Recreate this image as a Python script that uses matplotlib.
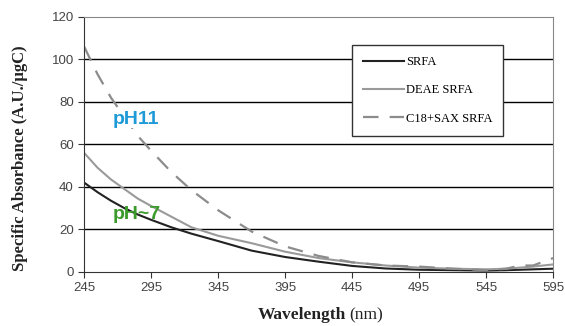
import matplotlib.pyplot as plt

wavelength = [245, 255, 265, 275, 285, 295, 310, 325, 345, 370, 395, 420,
              445, 470, 495, 520, 545, 560, 570, 580, 595]
srfa = [42, 37.5, 33.5, 30, 27, 24.5, 21, 18, 14.5, 10, 7, 4.8,
        2.8, 1.6, 1.0, 0.8, 0.6, 0.8, 1.0, 1.2, 1.5]
deae_srfa = [56, 49, 43.5, 39, 34.5, 31, 26, 21, 17, 13.5, 9.5, 6.5,
             4.5, 3.0, 2.0, 1.5, 1.2, 1.5, 2.0, 2.5, 3.5]
c18_sax_srfa = [106, 93, 82, 73, 64, 57, 47, 38.5, 29, 19, 12, 7.5,
                4.5, 3.0, 2.5, 1.5, 0.8, 1.5, 3.0, 3.0, 6.5]

x_ticks = [245, 295, 345, 395, 445, 495, 545, 595]
y_ticks = [0, 20, 40, 60, 80, 100, 120]

fig = plt.figure(figsize=(5.65, 3.26), dpi=100)
ax = fig.add_axes([0.149, 0.166, 0.830, 0.782])

ax.plot(wavelength, srfa, color='#222222', lw=1.5, label='SRFA')
ax.plot(wavelength, deae_srfa, color='#9a9a9a', lw=1.5, label='DEAE SRFA')
ax.plot(wavelength, c18_sax_srfa, color='#8c8c8c', lw=1.6, dashes=(7, 5),
        label='C18+SAX SRFA')

ax.set_xlim(245, 595)
ax.set_ylim(0, 120)
ax.set_xticks(x_ticks)
ax.set_yticks(y_ticks)
for y in y_ticks[1:-1]:
    ax.axhline(y, color='black', lw=1, zorder=0)

for s in ['top', 'right']:
    ax.spines[s].set_color('#888888')
for s in ['left', 'bottom']:
    ax.spines[s].set_color('#333333')
ax.tick_params(direction='out', length=4, color='#333333',
               labelsize=9.5, labelcolor='#444444')
for lab in ax.get_xticklabels() + ax.get_yticklabels():
    lab.set_fontfamily('Liberation Sans')

ax.text(266, 71.5, 'pH11', color='#1f9ad8', fontsize=14, fontweight='bold',
        fontfamily='Liberation Sans', va='center', zorder=5,
        bbox=dict(facecolor='white', edgecolor='none', pad=0))
ax.text(266, 26.8, 'pH~7', color='#3a9a2a', fontsize=14, fontweight='bold',
        fontfamily='Liberation Sans', va='center', zorder=5)

leg = ax.legend(loc='upper left', bbox_to_anchor=(0.571, 0.89),
                prop={'family': 'Liberation Serif', 'size': 9},
                handlelength=3.3, handletextpad=0.1, labelspacing=1.3,
                borderpad=0.9, borderaxespad=0, fancybox=False)
leg.get_frame().set_edgecolor('#333333')
leg.get_frame().set_linewidth(1)
leg.get_frame().set_alpha(1)

fig.text(0.035, 0.515, 'Specific Absorbance (A.U./\u00b5gC)', rotation=90,
         ha='center', va='center', fontsize=12, fontweight='bold',
         fontfamily='Liberation Serif', color='#222222')
fig.text(0.612, 0.034, 'Wavelength', ha='right', va='center', fontsize=12.5,
         fontweight='bold', fontfamily='Liberation Serif', color='#222222')
fig.text(0.618, 0.034, '(nm)', ha='left', va='center', fontsize=12.5,
         fontfamily='Liberation Serif', color='#222222')

fig.savefig('out.png', dpi=100)
